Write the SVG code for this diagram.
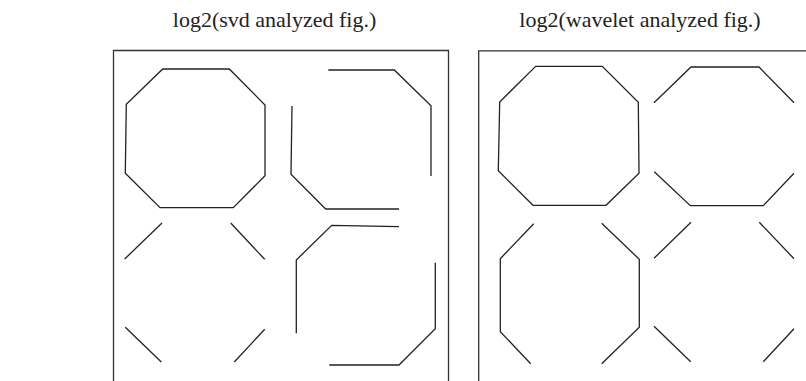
<svg xmlns="http://www.w3.org/2000/svg" width="806" height="381" viewBox="0 0 806 381">
<style>
.t{font-family:"Liberation Serif","Times New Roman",serif;font-size:22px;fill:#222;text-anchor:middle}
.f{fill:none;stroke:#333;stroke-width:1.3}
.l{fill:none;stroke:#222;stroke-width:1.3;stroke-linejoin:miter}
</style>
<rect width="806" height="381" fill="#fff"/>
<g id="titles">
<text class="t" x="274.5" y="27">log2(svd analyzed fig.)</text>
<text class="t" x="640" y="27">log2(wavelet analyzed fig.)</text>
</g>
<g id="svd-panel">
<path class="f" d="M113.5,385 V50.5 H448.5 V385"/>
<polygon class="l" points="162.7,69 229.3,69 265,105 265,175.7 233.3,207.7 160,207.7 125.3,173.3 126.3,104.3"/>
<polyline class="l" points="328.3,70 394.3,70 431,105.7 431,176"/>
<polyline class="l" points="292,106 291,174.3 325.7,209 399,209"/>
<polyline class="l" points="399,226.7 331.7,225.3 296.3,260 296.3,333.3"/>
<polyline class="l" points="435.3,262.7 435.3,328.7 399,365 329.3,365"/>
<line class="l" x1="162" y1="223" x2="124.7" y2="259"/>
<line class="l" x1="230.7" y1="223" x2="264.7" y2="259.3"/>
<line class="l" x1="125.3" y1="327.3" x2="161.3" y2="362"/>
<line class="l" x1="264.7" y1="329.3" x2="234.3" y2="362"/>
</g>
<g id="wavelet-panel">
<path class="f" d="M478.7,385 V50.8 H810"/>
<polygon class="l" points="535.7,66.3 602.3,66.3 638.3,102.3 639,173.3 606,205.3 533,205.3 498.3,170.7 499.7,102"/>
<polyline class="l" points="654,102.7 691,67 759,67 794,102.7"/>
<polyline class="l" points="654.3,171.7 690.3,205.7 763.3,205.7 794,173.3"/>
<polyline class="l" points="533.7,223.7 500.3,258.7 500.3,331.7 530.7,363.7"/>
<polyline class="l" points="601.7,223.3 639.3,259.3 639.3,327.3 601.7,363.7"/>
<line class="l" x1="654" y1="258.3" x2="691" y2="222.3"/>
<line class="l" x1="759.3" y1="222.3" x2="794" y2="258.7"/>
<line class="l" x1="654" y1="326.3" x2="690.7" y2="361.7"/>
<line class="l" x1="763.3" y1="361.7" x2="794" y2="328.7"/>
</g>
</svg>
